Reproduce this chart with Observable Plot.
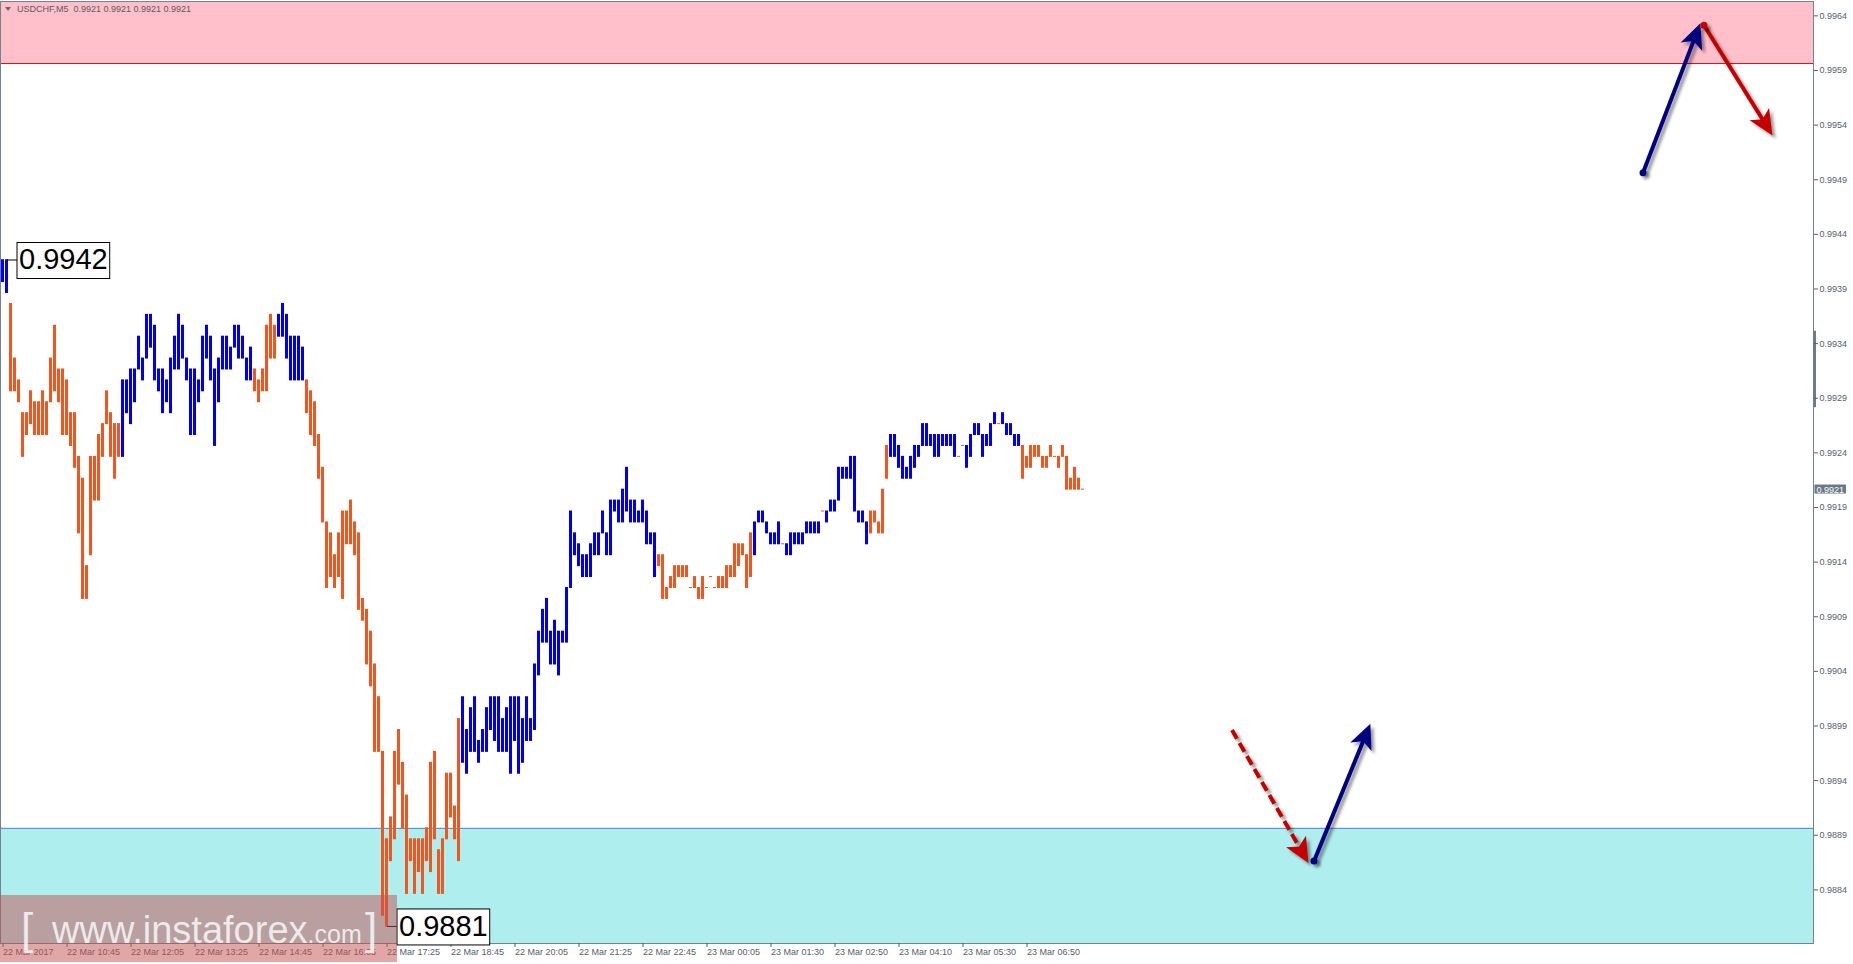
<!DOCTYPE html>
<html>
<head>
<meta charset="utf-8">
<script src="https://cdn.jsdelivr.net/npm/d3@7"></script>
<script src="https://cdn.jsdelivr.net/npm/@observablehq/plot@0.6"></script>
<style>
html, body { margin: 0; padding: 0; background: #ffffff; overflow: hidden; }
#wrap { position: relative; width: 1853px; height: 964px; }
</style>
</head>
<body>
<div id="wrap"></div>
<script>
// ---------------- DATA ----------------
// USDCHF M5, bars from 22 Mar 09:25; one entry per bar
const highs = [
  0.9942,0.9942,0.9938,0.9933,0.9931,0.9928,0.9928,0.9930,0.9929,0.9929,
  0.9930,0.9929,0.9933,0.9936,0.9932,0.9932,0.9931,0.9928,0.9928,0.9924,
  0.9922,0.9914,0.9924,0.9924,0.9926,0.9927,0.9930,0.9928,0.9927,0.9927,
  0.9931,0.9931,0.9932,0.9932,0.9935,0.9933,0.9937,0.9937,0.9936,0.9932,
  0.9932,0.9931,0.9933,0.9935,0.9937,0.9936,0.9933,0.9932,0.9932,0.9931,
  0.9935,0.9936,0.9935,0.9932,0.9933,0.9935,0.9935,0.9934,0.9936,0.9936,
  0.9935,0.9933,0.9934,0.9932,0.9931,0.9932,0.9936,0.9937,0.9936,0.9937,
  0.9938,0.9937,0.9935,0.9935,0.9935,0.9934,0.9931,0.9930,0.9929,0.9926,
  0.9923,0.9918,0.9917,0.9915,0.9917,0.9919,0.9919,0.9920,0.9918,0.9917,
  0.9911,0.9910,0.9908,0.9905,0.9902,0.9897,0.9889,0.9891,0.9897,0.9899,
  0.9896,0.9893,0.9889,0.9889,0.9889,0.9889,0.9890,0.9896,0.9897,0.9888,
  0.9889,0.9895,0.9895,0.9892,0.9900,0.9902,0.9899,0.9901,0.9902,0.9898,
  0.9899,0.9901,0.9902,0.9902,0.9902,0.9900,0.9901,0.9902,0.9902,0.9902,
  0.9900,0.9902,0.9900,0.9905,0.9908,0.9910,0.9911,0.9908,0.9909,0.9908,
  0.9908,0.9912,0.9919,0.9917,0.9916,0.9915,0.9915,0.9916,0.9917,0.9917,
  0.9919,0.9917,0.9920,0.9920,0.9920,0.9921,0.9923,0.9920,0.9920,0.9919,
  0.9920,0.9919,0.9917,0.9917,0.9915,0.9915,0.9912,0.9913,0.9914,0.9914,
  0.9914,0.9914,0.9912,0.9913,0.9912,0.9913,0.9912,0.9913,0.9912,0.9913,
  0.9913,0.9914,0.9914,0.9916,0.9916,0.9916,0.9915,0.9917,0.9918,0.9919,
  0.9919,0.9918,0.9917,0.9917,0.9918,0.9916,0.9916,0.9917,0.9917,0.9917,
  0.9917,0.9918,0.9918,0.9918,0.9918,0.9919,0.9919,0.9920,0.9920,0.9923,
  0.9923,0.9923,0.9924,0.9924,0.9919,0.9919,0.9918,0.9919,0.9919,0.9918,
  0.9921,0.9925,0.9926,0.9926,0.9925,0.9924,0.9923,0.9924,0.9925,0.9925,
  0.9927,0.9927,0.9926,0.9926,0.9926,0.9926,0.9926,0.9926,0.9926,0.9924,
  0.9925,0.9925,0.9926,0.9927,0.9927,0.9926,0.9926,0.9927,0.9928,0.9927,
  0.9928,0.9927,0.9927,0.9926,0.9926,0.9925,0.9924,0.9925,0.9925,0.9925,
  0.9924,0.9924,0.9925,0.9924,0.9924,0.9925,0.9924,0.9922,0.9923,0.9922,0.9921
];
const lows = [
  0.9940,0.9939,0.9930,0.9930,0.9929,0.9924,0.9926,0.9927,0.9926,0.9926,
  0.9926,0.9926,0.9929,0.9930,0.9929,0.9926,0.9926,0.9925,0.9923,0.9917,
  0.9911,0.9911,0.9915,0.9920,0.9920,0.9924,0.9927,0.9924,0.9922,0.9924,
  0.9924,0.9928,0.9927,0.9929,0.9932,0.9931,0.9933,0.9934,0.9931,0.9930,
  0.9928,0.9929,0.9928,0.9932,0.9932,0.9933,0.9931,0.9926,0.9926,0.9929,
  0.9930,0.9933,0.9931,0.9925,0.9929,0.9932,0.9932,0.9932,0.9934,0.9933,
  0.9933,0.9931,0.9931,0.9930,0.9929,0.9930,0.9930,0.9933,0.9933,0.9935,
  0.9935,0.9933,0.9931,0.9931,0.9931,0.9931,0.9928,0.9926,0.9925,0.9922,
  0.9918,0.9912,0.9913,0.9912,0.9913,0.9911,0.9916,0.9916,0.9915,0.9910,
  0.9909,0.9905,0.9903,0.9897,0.9897,0.9882,0.9881,0.9887,0.9889,0.9894,
  0.9890,0.9884,0.9887,0.9884,0.9886,0.9884,0.9887,0.9886,0.9889,0.9884,
  0.9884,0.9889,0.9891,0.9889,0.9887,0.9896,0.9895,0.9897,0.9897,0.9896,
  0.9897,0.9897,0.9899,0.9898,0.9897,0.9897,0.9897,0.9895,0.9898,0.9895,
  0.9896,0.9898,0.9898,0.9899,0.9904,0.9907,0.9907,0.9905,0.9905,0.9904,
  0.9907,0.9907,0.9912,0.9915,0.9914,0.9913,0.9913,0.9913,0.9915,0.9915,
  0.9917,0.9915,0.9915,0.9919,0.9918,0.9918,0.9919,0.9918,0.9918,0.9918,
  0.9918,0.9916,0.9916,0.9913,0.9914,0.9911,0.9911,0.9912,0.9912,0.9913,
  0.9913,0.9913,0.9912,0.9912,0.9911,0.9911,0.9912,0.9913,0.9912,0.9912,
  0.9912,0.9912,0.9913,0.9913,0.9914,0.9915,0.9912,0.9913,0.9915,0.9918,
  0.9918,0.9917,0.9916,0.9916,0.9916,0.9916,0.9915,0.9915,0.9916,0.9916,
  0.9916,0.9917,0.9917,0.9917,0.9917,0.9919,0.9918,0.9919,0.9919,0.9920,
  0.9922,0.9922,0.9922,0.9919,0.9918,0.9918,0.9916,0.9917,0.9918,0.9917,
  0.9917,0.9922,0.9924,0.9924,0.9923,0.9922,0.9922,0.9922,0.9923,0.9924,
  0.9925,0.9925,0.9925,0.9924,0.9924,0.9925,0.9925,0.9925,0.9924,0.9924,
  0.9925,0.9923,0.9924,0.9926,0.9926,0.9924,0.9925,0.9925,0.9927,0.9927,
  0.9927,0.9926,0.9926,0.9925,0.9925,0.9922,0.9923,0.9923,0.9924,0.9924,
  0.9923,0.9923,0.9924,0.9924,0.9923,0.9924,0.9921,0.9921,0.9921,0.9921,0.9921
];
// u = blue (rising) bar, d = orange (falling) bar
const barDirection = [
  "uudddddddd","dddddddddd","dddddddddd","uuuuuuuuuu","uuuuuuuuuu","uuuuuuuuuu",
  "uuuddddddu","uuuuuudddd","dddddddddd","dddddddddd","dddddddddd","ddddduuuuu",
  "uuuuuuuuuu","uuuuuuuuuu","uuuuuuuuuu","uuuuuuuuuu","uuuudddddd","dddddddddd",
  "dddddddduu","uuuuuduuuu","uuuuuduuuu","uuuuuuuddd","dduuuuuuuu","uuuuuuuuud",
  "duuuuuuuud","uuuuuddddd","ddddddddddd"
].join("").split("");

const lastBarOHLC = [0.9921, 0.9921, 0.9921, 0.9921];
const symbolName = "USDCHF,M5";

const resistanceZone = [0.9960];   // pink zone: from here up
const supportZone = [0.9890];      // cyan zone: from here down

const yTicks = [0.9964,0.9959,0.9954,0.9949,0.9944,0.9939,0.9934,0.9929,0.9924,
                0.9919,0.9914,0.9909,0.9904,0.9899,0.9894,0.9889,0.9884];
const xTickBars = [0,16,32,48,64,80,96,112,128,144,160,176,192,208,224,240,256];
const xTickLabels = ["22 Mar 2017","22 Mar 10:45","22 Mar 12:05","22 Mar 13:25","22 Mar 14:45",
  "22 Mar 16:05","22 Mar 17:25","22 Mar 18:45","22 Mar 20:05","22 Mar 21:25","22 Mar 22:45",
  "23 Mar 00:05","23 Mar 01:30","23 Mar 02:50","23 Mar 04:10","23 Mar 05:30","23 Mar 06:50"];

// forecast arrows (bar index, price)
const arrowFromBar   = [410,    425.25,  307.25, 327.75];
const arrowFromPrice = [0.9950, 0.99635, 0.9899, 0.9887];
const arrowToBar     = [424.25, 442.25,  326.25, 341.75];
const arrowToPrice   = [0.99636,0.99535, 0.98869,0.98995];
const arrowKind      = ["up", "down", "down-dashed", "up"];
const arrowHasDot    = [true, true, false, true];

// price range of the visible-window marker on the price scale
const scrollMarker = [0.99285, 0.99355];

const watermarkText = ["[", "www.instaforex", ".com", "]"];

// ---------------- CHART ----------------
const W = 1853, H = 964;
const xDomain = [-0.625, 452.625];
const yMin = 0.987946, yMax = 0.996568;
const blue = "#0000ee", orange = "#f0561e";
const navy = "#000080", red = "#c40000";
const frameColor = "#75818d", axisText = "#56606a";

const bars = highs.map((h, i) => ({i, high: h, low: lows[i], dir: barDirection[i]}));
const arrows = arrowFromBar.map((x1, k) => ({
  x1, y1: arrowFromPrice[k], x2: arrowToBar[k], y2: arrowToPrice[k], kind: arrowKind[k], dot: arrowHasDot[k]
}));
let peak = 0, trough = 0;
bars.forEach((b, i) => { if (b.high >= bars[peak].high) peak = i; if (b.low < bars[trough].low) trough = i; });
const callouts = [{i: peak, v: highs[peak]}, {i: trough, v: lows[trough]}];
const fmt = d3.format(".4f");
const lastClose = lastBarOHLC[3];

const barX1 = d => d.i - 0.375, barX2 = d => d.i + 0.375;

const chart = Plot.plot({
  width: W, height: H,
  marginLeft: 0, marginRight: 40, marginTop: 1, marginBottom: 21,
  x: {domain: xDomain},
  y: {domain: [yMin, yMax]},
  style: {background: "#ffffff", fontFamily: "'Liberation Sans', Arial, sans-serif", fontSize: "9px", overflow: "visible"},
  marks: [
    Plot.rect(resistanceZone, {y1: d => d, y2: () => yMax, fill: "#ffc0cb"}),
    Plot.rect(supportZone, {y1: () => yMin, y2: d => d, fill: "#afeeee"}),
    Plot.ruleY(resistanceZone, {stroke: "#cc1111", strokeWidth: 1}),
    Plot.ruleY(supportZone, {stroke: "#4f86c6", strokeWidth: 1}),
    Plot.rect(bars.filter(d => d.dir === "u"), {x1: barX1, x2: barX2, y1: "low", y2: "high", fill: blue, insetTop: -0.5, insetBottom: -0.5}),
    Plot.rect(bars.filter(d => d.dir === "d"), {x1: barX1, x2: barX2, y1: "low", y2: "high", fill: orange, insetTop: -0.5, insetBottom: -0.5}),
    Plot.frame({stroke: frameColor}),
    Plot.ruleX([scrollMarker], {x: () => xDomain[1], y1: d => d[0], y2: d => d[1], stroke: "#6f7b88", strokeWidth: 3, dx: 1}),
    Plot.axisY(yTicks, {anchor: "right", tickSize: 4, tickPadding: 2, dy: -4, tickFormat: fmt, label: null, color: axisText, fontSize: 9}),
    Plot.axisX(xTickBars, {anchor: "bottom", tickSize: 4, tickPadding: 1, label: null, color: axisText, fontSize: 9,
      textAnchor: "start", tickFormat: d => xTickLabels[xTickBars.indexOf(d)]}),
    Plot.link(arrows.filter(d => d.kind === "up"), {x1: "x1", y1: "y1", x2: "x2", y2: "y2", stroke: navy, strokeWidth: 4}),
    Plot.link(arrows.filter(d => d.kind === "down"), {x1: "x1", y1: "y1", x2: "x2", y2: "y2", stroke: red, strokeWidth: 4}),
    Plot.link(arrows.filter(d => d.kind === "down-dashed"), {x1: "x1", y1: "y1", x2: "x2", y2: "y2", stroke: red, strokeWidth: 4, strokeDasharray: "10,5"}),
    Plot.dot(arrows.filter(d => d.dot && d.kind === "up"), {x: "x1", y: "y1", r: 3.5, fill: navy, stroke: null}),
    Plot.dot(arrows.filter(d => d.dot && d.kind !== "up"), {x: "x1", y: "y1", r: 3.5, fill: red, stroke: null}),
    Plot.text(callouts, {x: "i", y: "v", text: d => fmt(d.v), dx: 12, textAnchor: "start", fontSize: 29, fill: "#000000"}),
    Plot.text([lastClose], {y: d => d, frameAnchor: "right", dx: 3, textAnchor: "start", text: d => fmt(d), fill: "#ffffff", fontSize: 9})
  ]
});

document.getElementById("wrap").appendChild(chart);

// ---------------- decorations (post-processing) ----------------
const NS = "http://www.w3.org/2000/svg";
const svg = d3.select(chart);
const defs = svg.append("defs");
defs.append("filter").attr("id", "shadow").attr("filterUnits", "userSpaceOnUse")
  .attr("x", 0).attr("y", 0).attr("width", W).attr("height", H)
  .append("feDropShadow").attr("dx", 3).attr("dy", 3).attr("stdDeviation", 1.8)
  .attr("flood-color", "#000").attr("flood-opacity", 0.4);
for (const [id, c] of [["head-navy", navy], ["head-red", red]]) {
  defs.append("marker").attr("id", id).attr("markerUnits", "userSpaceOnUse")
    .attr("viewBox", "-20 -14 36 28").attr("markerWidth", 36).attr("markerHeight", 28)
    .attr("refX", 0).attr("refY", 0).attr("orient", "auto")
    .append("path").attr("d", "M10,0L-15,-11.5L-9,0L-15,11.5Z").attr("fill", c);
}
const linkGroups = svg.selectAll('g[aria-label="link"]').nodes();
const headIds = ["head-navy", "head-red", "head-red"];
linkGroups.forEach((g, k) => {
  g.setAttribute("filter", "url(#shadow)");
  d3.select(g).selectAll("path").each(function() {
    const nums = (this.getAttribute("d") || "").match(/-?\d*\.?\d+(?:e-?\d+)?/g);
    if (nums && nums.length >= 4) {
      const x1 = +nums[0], y1 = +nums[1], x2 = +nums[nums.length - 2], y2 = +nums[nums.length - 1];
      const len = Math.hypot(x2 - x1, y2 - y1) || 1, back = 9;
      this.setAttribute("d", `M${x1},${y1}L${x2 - (x2 - x1) / len * back},${y2 - (y2 - y1) / len * back}`);
    }
    this.setAttribute("marker-end", `url(#${headIds[k] || "head-red"})`);
  });
});
svg.selectAll('g[aria-label="dot"]').attr("filter", "url(#shadow)");

// boxes behind text marks
const textGroups = svg.selectAll('g[aria-label="text"]').nodes();
function boxBehind(group, opts) {
  if (!group) return;
  d3.select(group).selectAll("text").each(function() {
    const b = this.getBBox();
    const t = this.getAttribute("transform");
    const r = document.createElementNS(NS, "rect");
    r.setAttribute("x", b.x - opts.padX);
    r.setAttribute("y", b.y - opts.padTop);
    r.setAttribute("width", b.width + 2 * opts.padX);
    r.setAttribute("height", b.height + opts.padTop + opts.padBottom);
    r.setAttribute("fill", opts.fill);
    r.setAttribute("stroke", opts.stroke || "none");
    r.setAttribute("stroke-width", 1);
    if (t) r.setAttribute("transform", t);
    group.insertBefore(r, this);
    if (opts.connector) {
      const cy = b.y + b.height / 2 + opts.connectorDy;
      const l = document.createElementNS(NS, "line");
      l.setAttribute("x1", b.x - opts.padX - 10); l.setAttribute("x2", b.x - opts.padX);
      l.setAttribute("y1", cy); l.setAttribute("y2", cy);
      l.setAttribute("stroke", "#000"); l.setAttribute("stroke-width", 1);
      if (t) l.setAttribute("transform", t);
      group.insertBefore(l, this);
    }
  });
}
boxBehind(textGroups[0], {padX: 2, padTop: 1, padBottom: 3, fill: "#ffffff", stroke: "#000000", connector: true, connectorDy: 0.5});
boxBehind(textGroups[1], {padX: 2, padTop: 0, padBottom: -1, fill: "#6c7886"});

// title (symbol and current bar values)
const title = svg.append("g").attr("font-family", "'Liberation Sans', Arial, sans-serif")
  .attr("fill", "#5a5a5a").attr("text-anchor", "start");
title.append("path").attr("d", "M5,7L11,7L8,11Z").attr("fill", "#6a6a6a");
title.append("text").attr("x", 17).attr("y", 12).attr("font-size", 9).attr("text-anchor", "start")
  .style("white-space", "pre")
  .text(symbolName + "  " + lastBarOHLC.map(fmt).join(" "));

// watermark
const wm = svg.append("g").attr("font-family", "'Liberation Sans', Arial, sans-serif").attr("text-anchor", "start");
wm.append("rect").attr("x", 0).attr("y", 895).attr("width", 397).attr("height", 67).attr("fill", "rgba(195,80,80,0.5)");
const wmFill = "rgba(245,250,250,0.85)";
wm.append("text").attr("x", 21).attr("y", 944).attr("font-size", 44).attr("font-weight", 300)
  .attr("text-anchor", "start").attr("fill", wmFill).text(watermarkText[0]);
const main = wm.append("text").attr("x", 52).attr("y", 943).attr("font-size", 38)
  .attr("text-anchor", "start").attr("fill", wmFill);
main.append("tspan").text(watermarkText[1]);
main.append("tspan").attr("font-size", 25).text(watermarkText[2]);
wm.append("text").attr("x", 365).attr("y", 944).attr("font-size", 44).attr("font-weight", 300)
  .attr("text-anchor", "start").attr("fill", wmFill).text(watermarkText[3]);
</script>
</body>
</html>
